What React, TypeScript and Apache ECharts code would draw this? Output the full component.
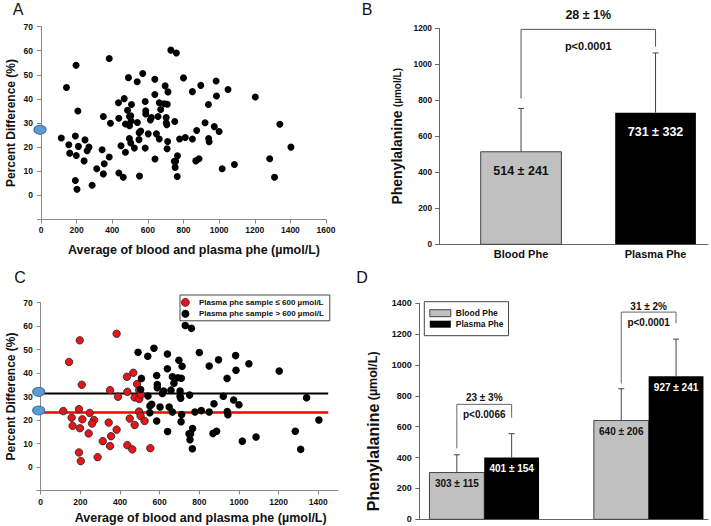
import React, { useEffect, useRef } from "react";
import * as echarts from "echarts";

const FONT = '"Liberation Sans", Arial, sans-serif';

// Panels A & C: average of blood and plasma phe (µmol/L) vs percent difference (%)
// plasma phe sample <= 600 µmol/L (red in C)
const lowX = [143, 197, 207, 114, 193, 156, 210, 161, 198, 247, 269, 259, 242, 193, 202, 287, 313, 343, 355, 350, 383, 350, 383, 390, 435, 437, 437, 462, 449, 467, 474, 474, 486, 497, 497, 496, 504, 506, 524, 553];
const lowY = [44.7, 53.9, 35.0, 23.8, 24.6, 21.0, 20.3, 17.5, 16.5, 23.0, 20.0, 18.5, 14.3, 6.2, 2.5, 4.2, 11.0, 18.9, 13.1, 8.9, 15.9, 32.7, 56.7, 29.9, 38.4, 32.0, 9.3, 7.5, 20.6, 40.1, 29.6, 17.9, 35.3, 32.7, 28.9, 23.6, 21.7, 30.8, 19.6, 8.0];
// plasma phe sample > 600 µmol/L (black in C)
const highX = [491, 508, 504, 540, 541, 551, 560, 550, 571, 585, 588, 588, 585, 602, 614, 620, 639, 639, 648, 640, 657, 664, 672, 664, 692, 709, 697, 703, 703, 706, 713, 711, 708, 729, 760, 751, 748, 756, 753, 766, 765, 778, 800, 810, 850, 850, 869, 887, 874, 897, 921, 940, 941, 944, 973, 983, 985, 1000, 1017, 1050, 1086, 1203, 1284, 1311, 1341, 1403];
const highY = [48.8, 37.7, 33.0, 47.1, 30.2, 26.0, 26.7, 23.1, 50.5, 38.9, 33.7, 35.1, 19.6, 25.5, 31.3, 32.3, 41.8, 48.1, 25.5, 15.1, 32.7, 38.4, 35.6, 23.4, 38.0, 37.8, 45.4, 32.3, 30.1, 29.3, 42.9, 22.3, 19.3, 60.2, 59.0, 30.6, 14.1, 14.1, 11.6, 16.4, 7.8, 23.4, 48.7, 24.0, 23.4, 43.0, 14.3, 15.2, 26.9, 45.6, 30.1, 37.7, 23.6, 22.2, 28.5, 47.4, 41.2, 26.5, 11.0, 43.9, 12.8, 40.8, 15.2, 7.5, 29.5, 20.0];
const meanA = 27.2;
const meanHighC = 32;
const meanLowC = 24;
const lineHighC = 31.3;
const lineLowC = 23.2;
const lineEndC = 1450;
const xTicksC = [0, 200, 400, 600, 800, 1000, 1200, 1400];
const yTicksPct = [0, 10, 20, 30, 40, 50, 60, 70];

// Panel B
const bCats = ["Blood Phe", "Plasma Phe"];
const bMean = [514, 731];
const bSd = [241, 332];
const bBracket = [[0, 811], [0, 1194], [1, 1194], [1, 1098]];
const bNotes = [
  { x: 0.5, y: 1274, text: "28 ± 1%", size: 12.5 },
  { x: 0.5, y: 1102, text: "p<0.0001", size: 11 },
];

// Panel D (two groups: plasma <= 600 and > 600)
const dGroups = [0, 1];
const dBloodMean = [303, 640];
const dBloodSd = [115, 206];
const dPlasmaMean = [401, 927];
const dPlasmaSd = [154, 241];
const OFF = 1 / 6;
const dBracket1 = [[-OFF, 460], [-OFF, 745], [OFF, 745], [OFF, 658]];
const dBracket2 = [[1 - OFF, 880], [1 - OFF, 1343], [1 + OFF, 1343], [1 + OFF, 1270]];
const dNotes = [
  { x: 0, y: 791, text: "23 ± 3%", size: 10 },
  { x: 0, y: 680, text: "p<0.0066", size: 10 },
  { x: 1, y: 1378, text: "31 ± 2%", size: 10 },
  { x: 1, y: 1277, text: "p<0.0001", size: 10 },
];

const LOW_NAME = "Plasma phe sample ≤ 600 µmol/L";
const HIGH_NAME = "Plasma phe sample > 600 µmol/L";

function makeBars(offset: number, width: number, fill: string, stroke: string | null, textFill: string, fontSize: number, drop: number) {
  return (params: any, api: any) => {
    const g = api.value(0);
    const m = api.value(1);
    const sd = api.value(2);
    const cx = g + offset;
    const base = api.coord([cx, 0]);
    const top = api.coord([cx, m]);
    const err = api.coord([cx, m + sd]);
    const w = api.size([width, 0])[0];
    return {
      type: "group",
      children: [
        {
          type: "rect",
          shape: { x: base[0] - w / 2, y: top[1], width: w, height: base[1] - top[1] },
          style: { fill, stroke: stroke || fill, lineWidth: stroke ? 1 : 0 },
        },
        { type: "line", shape: { x1: top[0], y1: top[1], x2: err[0], y2: err[1] }, style: { stroke: "#444", lineWidth: 1 } },
        { type: "line", shape: { x1: err[0] - 3, y1: err[1], x2: err[0] + 3, y2: err[1] }, style: { stroke: "#444", lineWidth: 1 } },
        {
          type: "text",
          x: top[0],
          y: top[1] + drop,
          style: { text: `${m} ± ${sd}`, fill: textFill, fontSize, fontWeight: "bold", fontFamily: FONT, align: "center", verticalAlign: "middle" },
        },
      ],
    };
  };
}

function makeNotes(arr: { x: number; y: number; text: string; size: number }[]) {
  return (params: any, api: any) => {
    const a = arr[params.dataIndex];
    const p = api.coord([a.x, a.y]);
    return {
      type: "text",
      x: p[0],
      y: p[1],
      style: { text: a.text, fontSize: a.size, fontWeight: "bold", fontFamily: FONT, fill: "#111", align: "center", verticalAlign: "middle" },
    };
  };
}

const plain = (v: number) => String(v);

function valueAxis(gridIndex: number, extra: any, color: string, labelSize: number, margin: number) {
  return {
    gridIndex,
    type: "value",
    splitLine: { show: false },
    axisLine: { show: true, onZero: false, lineStyle: { color, width: 1 } },
    axisTick: { show: true, length: 4, lineStyle: { color } },
    axisLabel: { fontSize: labelSize, fontWeight: "bold", fontFamily: FONT, color: "#111", margin, formatter: plain },
    ...extra,
  };
}

export default function App() {
  const ref = useRef<HTMLDivElement>(null);
  useEffect(() => {
    if (!ref.current) return;
    const chart = echarts.init(ref.current, null, { renderer: "svg" });
    const allPts = lowX.map((x, i) => [x, lowY[i]]).concat(highX.map((x, i) => [x, highY[i]]));
    const axisGray = "#8a8a8a";
    const axisDark = "#666";
    const titleStyle = { fontSize: 12.5, fontWeight: "bold", fontFamily: FONT, fill: "#111", align: "center", verticalAlign: "middle" };
    const pctName = {
      name: "Percent Difference (%)",
      nameLocation: "middle",
      nameRotate: 90,
      nameGap: 24,
      nameTextStyle: { fontSize: 12, fontWeight: "bold", fontFamily: FONT, color: "#111" },
    };
    const pheRich = (a: number, b: number) => ({
      a: { fontSize: a, fontWeight: "bold", fontFamily: FONT, color: "#111" },
      b: { fontSize: b, fontWeight: "bold", fontFamily: FONT, color: "#111" },
    });
    const letter = (t: string, x: number, y: number) => ({
      type: "text", x, y, style: { text: t, fontSize: 16, fontFamily: FONT, fill: "#111", align: "center", verticalAlign: "middle" },
    });
    const option: any = {
      animation: false,
      backgroundColor: "#fff",
      grid: [
        { left: 41, top: 26.5, width: 285, height: 193 },
        { left: 40.7, top: 302.5, width: 297.4, height: 188 },
        { left: 439, top: 28.3, width: 269, height: 216 },
        { left: 419.3, top: 303.3, width: 288.7, height: 216 },
      ],
      xAxis: [
        valueAxis(0, { min: 0, max: 1600, interval: 200 }, axisGray, 8.5, 6),
        valueAxis(1, {
          min: 0, max: 1500,
          axisTick: { show: true, length: 4, lineStyle: { color: axisGray }, customValues: xTicksC },
          axisLabel: { fontSize: 8.5, fontWeight: "bold", fontFamily: FONT, color: "#111", margin: 7, customValues: xTicksC, formatter: plain },
        }, axisGray, 8.5, 7),
        valueAxis(2, {
          min: -0.61, max: 1.39,
          axisTick: { show: false },
          axisLabel: { fontSize: 11, fontWeight: "bold", fontFamily: FONT, color: "#111", margin: 4, customValues: [0, 1], formatter: (v: number) => bCats[Math.round(v)] },
        }, axisDark, 11, 4),
        valueAxis(3, { min: -0.395, max: 1.361, axisTick: { show: false }, axisLabel: { show: false } }, axisDark, 9, 4),
      ],
      yAxis: [
        valueAxis(0, {
          min: -10, max: 70, interval: 10, ...pctName,
          axisLabel: { fontSize: 8.5, fontWeight: "bold", fontFamily: FONT, color: "#111", margin: 8, customValues: yTicksPct, formatter: plain },
        }, axisGray, 8.5, 8),
        valueAxis(1, {
          min: -10, max: 70, interval: 10, ...pctName,
          axisLabel: { fontSize: 8.5, fontWeight: "bold", fontFamily: FONT, color: "#111", margin: 8, customValues: yTicksPct, formatter: plain },
        }, axisGray, 8.5, 8),
        valueAxis(2, {
          min: 0, max: 1200, interval: 200,
          name: "{a|Phenylalanine} {b|(µmol/L)}", nameLocation: "middle", nameRotate: 90, nameGap: 35,
          nameTextStyle: { rich: pheRich(14, 10) },
        }, axisDark, 8.3, 7),
        valueAxis(3, {
          min: 0, max: 1400, interval: 200,
          name: "{a|Phenylalanine} {b|(µmol/L)}", nameLocation: "middle", nameRotate: 90, nameGap: 38,
          nameTextStyle: { rich: pheRich(16, 12.5), padding: [0, 40, 0, 0] },
        }, axisDark, 9, 7.5),
      ],
      legend: [
        {
          data: [
            { name: LOW_NAME, icon: "circle", itemStyle: { color: "#e8141a", borderColor: "#222", borderWidth: 0.8 } },
            { name: HIGH_NAME, icon: "circle", itemStyle: { color: "#000" } },
          ],
          left: 180, top: 295, orient: "vertical",
          itemWidth: 17, itemHeight: 8, itemGap: 3,
          padding: [3, 6, 3, 1],
          borderColor: "#444", borderWidth: 1,
          selectedMode: false,
          textStyle: { fontSize: 8, fontWeight: "bold", fontFamily: FONT, color: "#111" },
        },
        {
          data: [
            { name: "Blood Phe", icon: "rect", itemStyle: { color: "#c0c0c0", borderColor: "#444", borderWidth: 1 } },
            { name: "Plasma Phe", icon: "rect", itemStyle: { color: "#000" } },
          ],
          left: 424.3, top: 301.7, orient: "vertical",
          itemWidth: 21, itemHeight: 7, itemGap: 1,
          padding: [6.5, 5, 6.5, 5],
          borderColor: "#444", borderWidth: 1,
          selectedMode: false,
          textStyle: { fontSize: 8.5, fontWeight: "bold", fontFamily: FONT, color: "#111", lineHeight: 10 },
        },
      ],
      series: [
        // Panel A
        { type: "scatter", name: "A points", xAxisIndex: 0, yAxisIndex: 0, data: allPts, symbolSize: 7, itemStyle: { color: "#000", opacity: 1 }, silent: true },
        { type: "scatter", name: "A mean", xAxisIndex: 0, yAxisIndex: 0, data: [[0, meanA]], symbolSize: [12, 9], symbolOffset: [-1, 0], clip: false, z: 5,
          itemStyle: { color: "#5b9bd5", borderColor: "#41719c", borderWidth: 1, opacity: 1 }, silent: true },
        // Panel C
        { type: "line", name: "C high line", xAxisIndex: 1, yAxisIndex: 1, data: [[0, lineHighC], [lineEndC, lineHighC]], symbol: "none", lineStyle: { color: "#000", width: 2 }, silent: true, z: 1 },
        { type: "line", name: "C low line", xAxisIndex: 1, yAxisIndex: 1, data: [[0, lineLowC], [lineEndC, lineLowC]], symbol: "none", lineStyle: { color: "#ff0000", width: 2.5 }, silent: true, z: 1 },
        { type: "scatter", name: LOW_NAME, xAxisIndex: 1, yAxisIndex: 1, data: lowX.map((x, i) => [x, lowY[i]]), symbolSize: 7.5,
          itemStyle: { color: "#e8141a", borderColor: "#222", borderWidth: 0.8, opacity: 1 }, silent: true, z: 3 },
        { type: "scatter", name: HIGH_NAME, xAxisIndex: 1, yAxisIndex: 1, data: highX.map((x, i) => [x, highY[i]]), symbolSize: 7.5,
          itemStyle: { color: "#000", opacity: 1 }, silent: true, z: 3 },
        { type: "scatter", name: "C means", xAxisIndex: 1, yAxisIndex: 1, data: [[0, meanHighC], [0, meanLowC]], symbolSize: [12, 9], symbolOffset: [-2, 0], clip: false, z: 5,
          itemStyle: { color: "#5b9bd5", borderColor: "#41719c", borderWidth: 1, opacity: 1 }, silent: true },
        // Panel B
        { type: "custom", name: "B blood", xAxisIndex: 2, yAxisIndex: 2, clip: false, encode: { x: 0, y: 1 },
          data: [[0, bMean[0], bSd[0]]],
          renderItem: makeBars(0, 0.6, "#c0c0c0", "#444", "#111", 12.5, 19), silent: true },
        { type: "custom", name: "B plasma", xAxisIndex: 2, yAxisIndex: 2, clip: false, encode: { x: 0, y: 1 },
          data: [[1, bMean[1], bSd[1]]],
          renderItem: makeBars(0, 0.6, "#000", null, "#fff", 12.5, 19), silent: true },
        { type: "line", name: "B bracket", xAxisIndex: 2, yAxisIndex: 2, data: bBracket, symbol: "none", lineStyle: { color: "#555", width: 1 }, silent: true },
        { type: "custom", name: "B notes", xAxisIndex: 2, yAxisIndex: 2, clip: false, encode: { x: 0, y: 1 },
          data: bNotes.map((a) => [a.x, a.y]), renderItem: makeNotes(bNotes), silent: true },
        // Panel D
        { type: "custom", name: "Blood Phe", xAxisIndex: 3, yAxisIndex: 3, clip: false, encode: { x: 0, y: 1 }, itemStyle: { color: "#c0c0c0" },
          data: dGroups.map((g, i) => [g, dBloodMean[i], dBloodSd[i]]),
          renderItem: makeBars(-OFF, 2 * OFF, "#c0c0c0", "#444", "#111", 10, 11), silent: true },
        { type: "custom", name: "Plasma Phe", xAxisIndex: 3, yAxisIndex: 3, clip: false, encode: { x: 0, y: 1 }, itemStyle: { color: "#000" },
          data: dGroups.map((g, i) => [g, dPlasmaMean[i], dPlasmaSd[i]]),
          renderItem: makeBars(OFF, 2 * OFF, "#000", null, "#fff", 10, 11), silent: true },
        { type: "line", name: "D bracket 1", xAxisIndex: 3, yAxisIndex: 3, data: dBracket1, symbol: "none", lineStyle: { color: "#666", width: 1 }, silent: true },
        { type: "line", name: "D bracket 2", xAxisIndex: 3, yAxisIndex: 3, data: dBracket2, symbol: "none", lineStyle: { color: "#666", width: 1 }, silent: true },
        { type: "custom", name: "D notes", xAxisIndex: 3, yAxisIndex: 3, clip: false, encode: { x: 0, y: 1 },
          data: dNotes.map((a) => [a.x, a.y]), renderItem: makeNotes(dNotes), silent: true },
      ],
      graphic: [
        letter("A", 18, 9),
        letter("B", 367, 9),
        letter("C", 20, 277),
        letter("D", 362, 277),
        { type: "text", x: 194, y: 250, style: { ...titleStyle, text: "Average of blood and plasma phe (µmol/L)" } },
        { type: "text", x: 200.7, y: 518, style: { ...titleStyle, text: "Average of blood and plasma phe (µmol/L)" } },
      ],
    };
    chart.setOption(option);
    return () => chart.dispose();
  }, []);
  return <div ref={ref} style={{ position: "fixed", left: 0, top: 0, width: 711, height: 526, background: "#fff" }} />;
}
